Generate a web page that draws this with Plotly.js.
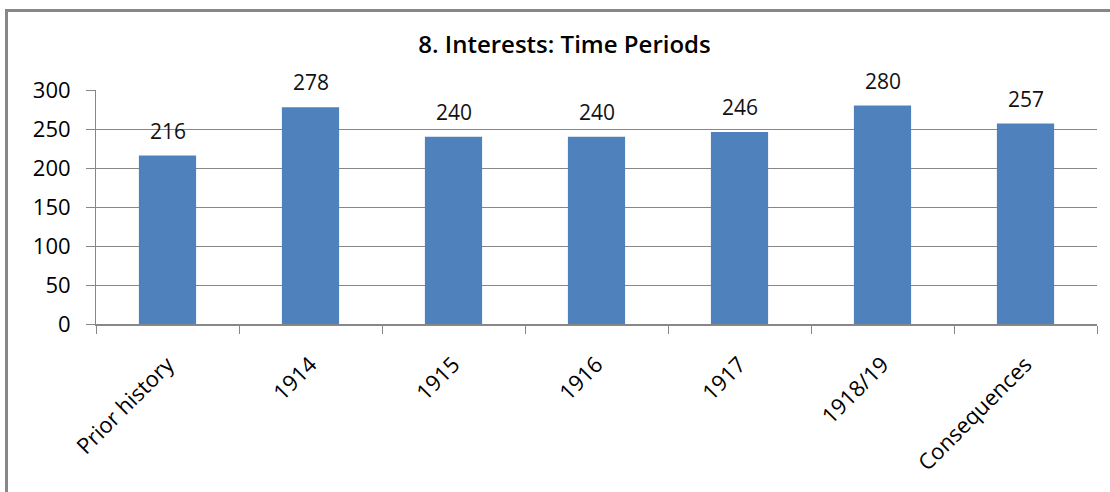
<!DOCTYPE html>
<html>
<head>
<meta charset="utf-8">
<script src="https://cdn.plot.ly/plotly-3.0.1.min.js"></script>
<style>
  html, body { margin: 0; padding: 0; background: #fff; }
  #chart { width: 1110px; height: 492px; position: relative; }
  #frame { position: absolute; left: 5px; top: 9px; width: 2000px; height: 2000px;
           border-left: 3px solid #878787; border-top: 3px solid #878787; pointer-events: none; }
</style>
</head>
<body>
<div id="chart"></div>
<div id="frame"></div>
<script>
const categories = ["Prior history", "1914", "1915", "1916", "1917", "1918/19", "Consequences"];
const values = [216, 278, 240, 240, 246, 280, 257];
const chartTitle = "8. Interests: Time Periods";

const fontFam = "'Open Sans', Lato, sans-serif";

const trace = {
  type: "bar",
  x: categories,
  y: values,
  marker: { color: "#4F81BD" },
  hoverinfo: "x+y"
};

const annotations = categories.map((c, i) => ({
  x: i, y: values[i], xref: "x", yref: "y",
  text: String(values[i]), showarrow: false,
  yanchor: "bottom", yshift: 9,
  font: { family: fontFam, size: 21, color: "#111" }
}));

const layout = {
  width: 1110, height: 492,
  margin: { l: 96, r: 13, t: 90, b: 167.5, pad: 0 },
  paper_bgcolor: "#fff", plot_bgcolor: "#fff",
  bargap: 0.6,
  showlegend: false,
  title: {
    text: chartTitle,
    x: 0.5086, xref: "container", xanchor: "center",
    y: 0.9085, yref: "container", yanchor: "middle",
    font: { family: fontFam, size: 24, color: "#000", weight: 600 }
  },
  xaxis: {
    type: "category",
    range: [-0.5, categories.length - 0.5], autorange: false,
    showline: true, linecolor: "#878787", linewidth: 2,
    ticks: "outside", tickson: "boundaries", ticklen: 8, tickcolor: "#878787", tickwidth: 1,
    showgrid: false, zeroline: false,
    tickangle: -45,
    tickfont: { family: fontFam, size: 22, color: "#000" },
    ticklabelstandoff: 17
  },
  yaxis: {
    range: [0, 300], autorange: false, dtick: 50, tick0: 0,
    showline: true, linecolor: "#878787", linewidth: 1,
    ticks: "outside", ticklen: 9, tickcolor: "#878787",
    showgrid: true, gridcolor: "#878787", gridwidth: 1,
    zeroline: false,
    tickfont: { family: fontFam, size: 22, color: "#000" },
    ticklabelstandoff: 11
  },
  annotations: annotations
};

Plotly.newPlot("chart", [trace], layout, { displayModeBar: false, staticPlot: true });
</script>
</body>
</html>
